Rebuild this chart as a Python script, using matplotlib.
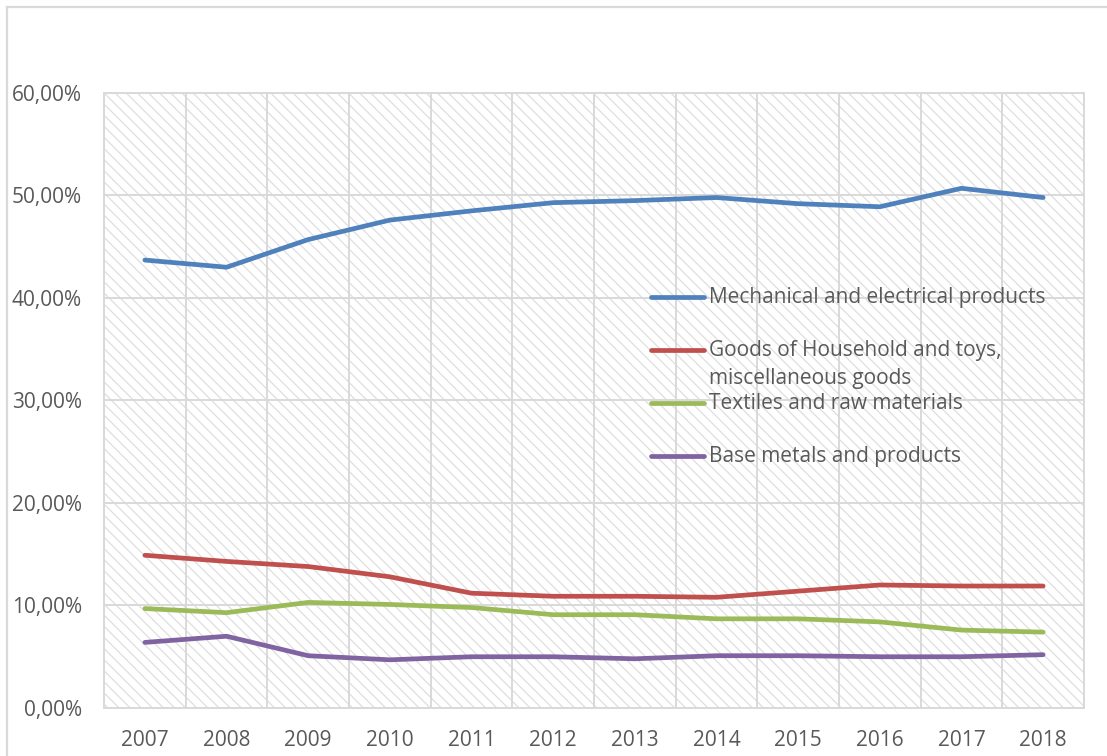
import numpy as np
import matplotlib
matplotlib.use("Agg")
from matplotlib import pyplot as plt
from matplotlib.patches import Rectangle
from matplotlib.lines import Line2D
from matplotlib.ticker import FuncFormatter

plt.rcParams['font.family'] = ['Open Sans', 'DejaVu Sans']
plt.rcParams['hatch.linewidth'] = 0.9

years = ['2007', '2008', '2009', '2010', '2011', '2012',
         '2013', '2014', '2015', '2016', '2017', '2018']
mechanical = [43.7, 43.0, 45.7, 47.6, 48.5, 49.3, 49.5, 49.8, 49.2, 48.9, 50.7, 49.8]
household = [14.9, 14.3, 13.8, 12.8, 11.2, 10.9, 10.9, 10.8, 11.4, 12.0, 11.9, 11.9]
textiles = [9.7, 9.3, 10.3, 10.1, 9.8, 9.1, 9.1, 8.7, 8.7, 8.4, 7.6, 7.4]
metals = [6.4, 7.0, 5.1, 4.7, 5.0, 5.0, 4.8, 5.1, 5.1, 5.0, 5.0, 5.2]

labels = ['Mechanical and electrical products',
          'Goods of Household and toys,\nmiscellaneous goods',
          'Textiles and raw materials',
          'Base metals and products']
colors = ['#4f81bd', '#c0504d', '#9bbb59', '#8064a2']
txt = '#595959'
grid = '#d9d9d9'

fig = plt.figure(figsize=(11.07, 7.56), dpi=100)
ax = fig.add_axes([0.0940, 0.0635, 0.8852, 0.8135])

# hatched plot area
ax.add_patch(Rectangle((0, 0), 1, 1, transform=ax.transAxes, facecolor='white',
                       edgecolor='#dedede', linewidth=0, hatch='\\\\\\', zorder=0.1))

x = np.arange(len(years))
for vals, c in zip([mechanical, household, textiles, metals], colors):
    ax.plot(x, vals, color=c, linewidth=3.4, solid_capstyle='round', zorder=3)

ax.set_xlim(-0.5, len(years) - 0.5)
ax.set_ylim(0, 60)
ax.set_xticks(x)
ax.set_xticklabels(years)
ax.set_xticks(np.arange(-0.5, len(years), 0.5), minor=True)
ax.set_yticks(np.arange(0, 61, 10))
ax.yaxis.set_major_formatter(FuncFormatter(lambda v, p: ('%.2f%%' % v).replace('.', ',')))

ax.set_axisbelow(True)
ax.grid(axis='y', color=grid, linewidth=1.4)
ax.grid(axis='x', which='minor', color=grid, linewidth=1.4)
ax.tick_params(axis='both', which='both', length=0, colors=txt, labelsize=15)
ax.tick_params(axis='x', pad=16)
ax.tick_params(axis='y', pad=16)
for s in ax.spines.values():
    s.set_color(grid)
    s.set_linewidth(1.4)

# legend drawn inside the plot area
leg_y = [0.6683, 0.5821, 0.4959, 0.4098]
for ly, lab, c in zip(leg_y, labels, colors):
    ax.add_line(Line2D([0.5586, 0.6126], [ly, ly], transform=ax.transAxes,
                       color=c, linewidth=3.4, solid_capstyle='round', zorder=4))
    ax.text(0.6177, ly + 0.0155, lab, transform=ax.transAxes, va='top', ha='left',
            fontsize=15, color=txt, linespacing=1.42, zorder=4)

# outer chart border (top and left)
fig.add_artist(Line2D([0.0063, 1.0], [0.9907, 0.9907], color=grid, linewidth=1.6))
fig.add_artist(Line2D([0.0063, 0.0063], [0.0, 0.9907], color=grid, linewidth=1.6))

fig.savefig('out.png', dpi=100)
